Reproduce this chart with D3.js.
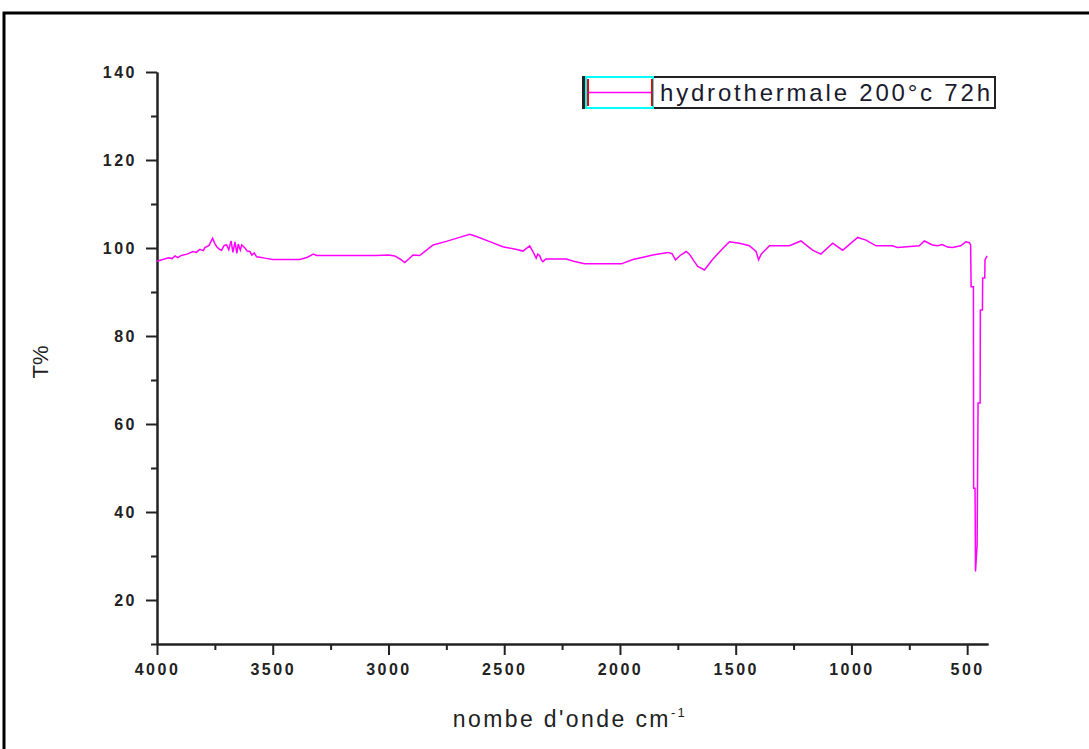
<!DOCTYPE html>
<html>
<head>
<meta charset="utf-8">
<script src="https://cdn.jsdelivr.net/npm/d3@7"></script>
<style>
  body { margin: 0; background: #fff; }
  text { font-family: "Liberation Sans", Arial, sans-serif; }
</style>
</head>
<body>
<div id="chart"></div>
<script>
// spectrum (wavenumber cm-1, T%)
const waveNumbers = [4000, 3975, 3950, 3935, 3922, 3910, 3895, 3870, 3845, 3830, 3815, 3800, 3793, 3775, 3760,
  3750, 3742, 3730, 3721, 3710, 3699, 3690, 3680, 3672, 3663, 3655, 3649, 3640, 3634, 3620, 3610, 3599, 3590,
  3580, 3570, 3555, 3534, 3500, 3483, 3400, 3383, 3350, 3325, 3310, 3296, 3200, 3052, 3000, 2973, 2950, 2930,
  2910, 2894, 2865, 2822, 2807, 2750, 2700, 2649, 2620, 2560, 2506, 2450, 2419, 2390, 2376, 2362, 2355, 2347,
  2340, 2333, 2320, 2304, 2232, 2200, 2153, 2100, 1994, 1944, 1900, 1858, 1793, 1775, 1760, 1740, 1714, 1700,
  1680, 1664, 1635, 1600, 1556, 1527, 1484, 1441, 1412, 1401, 1390, 1354, 1268, 1218, 1168, 1132, 1081, 1038,
  973, 937, 894, 823, 801, 707, 685, 650, 628, 607, 585, 564, 528, 506, 490, 485, 483, 473, 472, 466, 464, 457,
  453, 444, 443, 434, 433, 424, 423, 414]
const transmittance = [97.0, 97.4, 97.8, 97.6, 98.2, 97.8, 98.3, 98.6, 99.2, 99.0, 99.7, 99.4, 100.1, 100.6, 102.2,
  101.0, 100.3, 99.7, 99.5, 100.6, 100.7, 99.6, 101.6, 99.0, 101.4, 98.8, 100.9, 99.5, 100.7, 100.0, 99.3, 99.2, 98.4,
  98.9, 98.0, 97.9, 97.7, 97.4, 97.4, 97.4, 97.4, 97.9, 98.6, 98.3, 98.3, 98.3, 98.3, 98.4, 98.2, 97.5, 96.7,
  97.6, 98.4, 98.3, 100.1, 100.7, 101.5, 102.3, 103.1, 102.6, 101.4, 100.3, 99.7, 99.3, 100.5, 99.2, 97.7, 98.6, 98.3,
  97.3, 96.9, 97.5, 97.5, 97.5, 97.0, 96.4, 96.4, 96.4, 97.4, 97.9, 98.4, 99.0, 98.7, 97.3, 98.3, 99.2, 98.6,
  97.0, 95.8, 95.0, 97.4, 99.9, 101.4, 101.1, 100.5, 99.2, 97.3, 98.6, 100.5, 100.5, 101.6, 99.5, 98.6, 101.1, 99.5,
  102.4, 101.8, 100.5, 100.5, 100.1, 100.5, 101.6, 100.7, 100.5, 100.8, 100.2, 100.1, 100.5, 101.4, 101.2, 100.7, 91.2, 91.2, 45.4, 45.4, 26.5, 32.5,
  64.8, 64.8, 85.9, 85.9, 93.2, 93.2, 97.3, 98.2]

const xMajorTicks = [4000, 3500, 3000, 2500, 2000, 1500, 1000, 500]
const xMinorTicks = [3750, 3250, 2750, 2250, 1750, 1250, 750]
const yMajorTicks = [20, 40, 60, 80, 100, 120, 140]
const yMinorTicks = [10, 30, 50, 70, 90, 110, 130]
const seriesName = "hydrothermale 200°c 72h"

const W = 1089, H = 749
const plot = { left: 157, right: 988, top: 72, bottom: 644 }

const svg = d3.select("#chart").append("svg")
  .attr("width", W)
  .attr("height", H)

// outer frame, runs off the page on the right and bottom
svg.append("rect")
  .attr("x", 4).attr("y", 13)
  .attr("width", 1200).attr("height", 900)
  .attr("fill", "none")
  .attr("stroke", "#000")
  .attr("stroke-width", 3)

const xPositionScale = d3.scaleLinear()
  .domain([4000, 410])
  .range([plot.left, plot.right])

const yPositionScale = d3.scaleLinear()
  .domain([10, 140])
  .range([plot.bottom, plot.top])

const points = waveNumbers.map((w, i) => ({ w: w, t: transmittance[i] }))

// axes
function styleAxis (g) {
  g.select(".domain").attr("stroke", "#222").attr("stroke-width", 2)
  g.selectAll(".tick line").attr("stroke", "#222").attr("stroke-width", 2)
  g.selectAll(".tick text")
    .attr("fill", "#222")
    .style("font-size", "16px")
    .style("font-weight", "bold")
    .style("letter-spacing", "2.5px")
}

svg.append("g")
  .attr("transform", "translate(0," + plot.bottom + ")")
  .call(d3.axisBottom(xPositionScale).tickValues(xMinorTicks).tickSize(6).tickSizeOuter(0).tickFormat(""))
  .call(styleAxis)

svg.append("g")
  .attr("transform", "translate(0," + plot.bottom + ")")
  .call(d3.axisBottom(xPositionScale).tickValues(xMajorTicks).tickSize(11).tickSizeOuter(0).tickPadding(9).tickFormat(d3.format("d")))
  .call(styleAxis)

svg.append("g")
  .attr("transform", "translate(" + plot.left + ",0)")
  .call(d3.axisLeft(yPositionScale).tickValues(yMinorTicks).tickSize(6).tickSizeOuter(0).tickFormat(""))
  .call(styleAxis)

svg.append("g")
  .attr("transform", "translate(" + plot.left + ",0)")
  .call(d3.axisLeft(yPositionScale).tickValues(yMajorTicks).tickSize(11).tickSizeOuter(0).tickPadding(9).tickFormat(d3.format("d")))
  .call(styleAxis)

// the spectrum
const line = d3.line()
  .x(d => xPositionScale(d.w))
  .y(d => yPositionScale(d.t))

svg.append("path")
  .datum(points)
  .attr("d", line)
  .attr("fill", "none")
  .attr("stroke", "#ff00ff")
  .attr("stroke-width", 1.5)

// axis titles
const xTitle = svg.append("text")
  .attr("x", 570)
  .attr("y", 727)
  .attr("text-anchor", "middle")
  .attr("fill", "#222")
  .style("font-size", "23px")
  .style("letter-spacing", "2.4px")
xTitle.append("tspan").text("nombe d'onde cm")
xTitle.append("tspan").attr("dy", -10).style("font-size", "13px").text("-1")

svg.append("text")
  .attr("transform", "translate(48,362) rotate(-90)")
  .attr("text-anchor", "middle")
  .attr("fill", "#222")
  .style("font-size", "22px")
  .text("T%")

// legend
svg.append("rect")
  .attr("x", 583).attr("y", 77)
  .attr("width", 412).attr("height", 31)
  .attr("fill", "#fff")
  .attr("stroke", "#222")
  .attr("stroke-width", 2)
svg.append("rect")
  .attr("x", 586).attr("y", 77)
  .attr("width", 67).attr("height", 31)
  .attr("fill", "none")
  .attr("stroke", "#00ffff")
  .attr("stroke-width", 2)
svg.append("line")
  .attr("x1", 587).attr("x2", 653)
  .attr("y1", 92.5).attr("y2", 92.5)
  .attr("stroke", "#ff00ff")
  .attr("stroke-width", 1.5)
svg.selectAll(".legend-cap")
  .data([588, 652])
  .join("line")
  .attr("class", "legend-cap")
  .attr("x1", d => d).attr("x2", d => d)
  .attr("y1", 79).attr("y2", 106)
  .attr("stroke", "#ff0000")
  .attr("stroke-width", 2)
svg.append("line")
  .attr("x1", 584).attr("x2", 584)
  .attr("y1", 77).attr("y2", 108)
  .attr("stroke", "#222")
  .attr("stroke-width", 2)

svg.append("text")
  .attr("x", 660)
  .attr("y", 101)
  .attr("fill", "#1a1a2e")
  .attr("textLength", 330)
  .attr("lengthAdjust", "spacing")
  .style("font-size", "24px")
  .text(seriesName)
</script>
</body>
</html>
